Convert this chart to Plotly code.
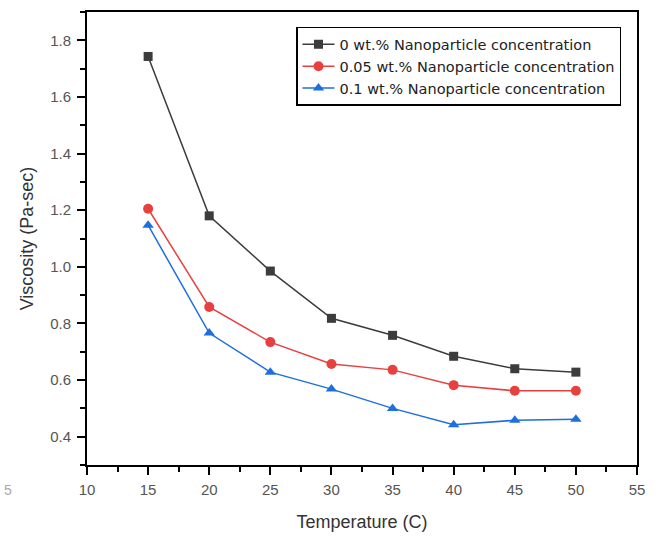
import plotly.graph_objects as go

temperature = [15, 20, 25, 30, 35, 40, 45, 50]
visc_0 = [1.743, 1.18, 0.985, 0.818, 0.758, 0.684, 0.64, 0.628]
visc_005 = [1.205, 0.858, 0.734, 0.657, 0.636, 0.582, 0.562, 0.562]
visc_01 = [1.147, 0.766, 0.628, 0.568, 0.5, 0.442, 0.458, 0.462]
names = ["0 wt.% Nanoparticle concentration",
         "0.05 wt.% Nanoparticle concentration",
         "0.1 wt.% Nanoparticle concentration"]
x_ticks = [10, 15, 20, 25, 30, 35, 40, 45, 50, 55]
y_ticks = [0.4, 0.6, 0.8, 1.0, 1.2, 1.4, 1.6, 1.8]

FONT = "Liberation Sans, Arial, sans-serif"
LEG_FONT = "DejaVu Sans, sans-serif"

fig = go.Figure()
styles = [
    (visc_0, "#3c3c3c", "square", 9),
    (visc_005, "#e8403f", "circle", 10),
    (visc_01, "#1e6ee0", "triangle-up", 10),
]
for (vals, color, sym, size), name in zip(styles, names):
    fig.add_trace(go.Scatter(
        x=temperature, y=vals, mode="lines+markers", name=name,
        line=dict(color=color, width=1.5),
        marker=dict(symbol=sym, size=size, color=color),
    ))

axis_common = dict(
    showline=True, linecolor="black", linewidth=2, mirror=True,
    ticks="outside", ticklen=8, tickwidth=1.5, tickcolor="black",
    showgrid=False, zeroline=False, automargin=False,
    tickfont=dict(family=FONT, size=15, color="#555555"),
    title_font=dict(family=FONT, size=18, color="#333333"),
)

fig.update_xaxes(
    range=[10, 55], tickvals=x_ticks, ticktext=[str(v) for v in x_ticks],
    minor=dict(ticks="outside", ticklen=5, tickwidth=1.5, tickcolor="black", dtick=2.5, tick0=10),
    title_text="Temperature (C)", title_standoff=18, ticklabelstandoff=2,
    **axis_common,
)
fig.update_yaxes(
    range=[0.3, 1.9], tickvals=y_ticks, ticktext=[f"{v:.1f}" for v in y_ticks],
    minor=dict(ticks="outside", ticklen=5, tickwidth=1.5, tickcolor="black", dtick=0.1, tick0=0.3),
    title_text="Viscosity (Pa-sec)", title_standoff=12, ticklabelstandoff=3,
    **axis_common,
)

fig.update_layout(
    width=670, height=536,
    margin=dict(l=87, r=33, t=12, b=71),
    plot_bgcolor="white", paper_bgcolor="white",
    font=dict(family=FONT, size=13, color="#333333"),
    legend=dict(
        x=0.38, y=0.967, xanchor="left", yanchor="top",
        bgcolor="white", bordercolor="black", borderwidth=1.5,
        font=dict(family=LEG_FONT, size=14.5, color="#222222"),
        tracegroupgap=0, itemwidth=32,
    ),
    annotations=[dict(text="5", x=-0.155, y=-0.078, xref="paper", yref="paper",
                      showarrow=False, font=dict(family=FONT, size=14, color="#aaaaaa"))],
)

fig.write_html("out.html")
